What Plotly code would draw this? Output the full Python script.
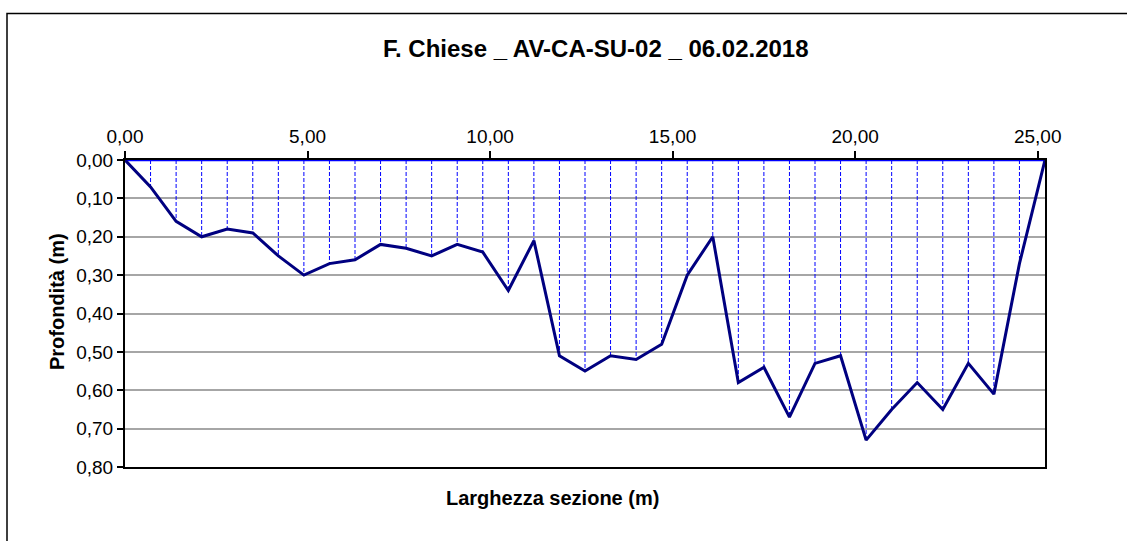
import plotly.graph_objects as go

# Data
larghezza = [0.0, 0.7, 1.4, 2.1, 2.8, 3.5, 4.2, 4.9, 5.6, 6.3, 7.0, 7.7, 8.4, 9.1,
             9.8, 10.5, 11.2, 11.9, 12.6, 13.3, 14.0, 14.7, 15.4, 16.1, 16.8, 17.5,
             18.2, 18.9, 19.6, 20.3, 21.0, 21.7, 22.4, 23.1, 23.8, 24.5, 25.2]
profondita = [0.00, 0.07, 0.16, 0.20, 0.18, 0.19, 0.25, 0.30, 0.27, 0.26, 0.22, 0.23,
              0.25, 0.22, 0.24, 0.34, 0.21, 0.51, 0.55, 0.51, 0.52, 0.48, 0.30, 0.20,
              0.58, 0.54, 0.67, 0.53, 0.51, 0.73, 0.65, 0.58, 0.65, 0.53, 0.61, 0.27,
              0.00]
title_text = "F. Chiese _ AV-CA-SU-02 _ 06.02.2018"
x_title = "Larghezza sezione (m)"
y_title = "Profondità (m)"
x_ticks = [0, 5, 10, 15, 20, 25]
y_ticks = [0.0, 0.1, 0.2, 0.3, 0.4, 0.5, 0.6, 0.7, 0.8]

FONT = "Liberation Sans, Arial, sans-serif"

# vertical dashed lines from the surface to each measured depth
vx, vy = [], []
for xv, dv in zip(larghezza, profondita):
    vx += [xv, xv, None]
    vy += [0, dv, None]

fig = go.Figure()
fig.add_trace(go.Scatter(x=vx, y=vy, mode="lines",
                         line=dict(color="#0000FF", width=1, dash="4px,2px"),
                         hoverinfo="skip", showlegend=False))
fig.add_trace(go.Scatter(x=[larghezza[0], larghezza[-1]], y=[0, 0], mode="lines",
                         line=dict(color="#0000FF", width=2.5),
                         hoverinfo="skip", showlegend=False))
fig.add_trace(go.Scatter(x=larghezza, y=profondita, mode="lines",
                         line=dict(color="#000080", width=3),
                         showlegend=False))

W, H = 1127, 541
L, R, T, B = 125, 82, 159.5, 73.5
pw, ph = W - L - R, H - T - B

def px(xp):
    return (xp - L) / pw

def py(yp):
    return (H - B - yp) / ph

fig.update_layout(
    width=W, height=H,
    margin=dict(l=L, r=R, t=T, b=B, pad=0),
    paper_bgcolor="white", plot_bgcolor="white",
    separators=", ",
    font=dict(family=FONT, size=19, color="black"),
    xaxis=dict(side="top", range=[0, 25.2], tickvals=x_ticks, tickformat=".2f",
               showgrid=False, zeroline=False, showline=True, linecolor="black",
               linewidth=2, mirror=True, ticks="outside", ticklen=7,
               tickcolor="black", tickwidth=1.5,
               tickfont=dict(size=19, family=FONT, color="black")),
    yaxis=dict(range=[0.8, 0], tickvals=y_ticks, tickformat=".2f",
               showgrid=True, gridcolor="#a6a6a6", gridwidth=1.5,
               zeroline=False, showline=True, linecolor="black", linewidth=2,
               mirror=True, ticks="outside", ticklen=6, tickcolor="black",
               tickwidth=1.5,
               tickfont=dict(size=19, family=FONT, color="black")),
    annotations=[
        dict(text="<b>" + title_text + "</b>", xref="paper", yref="paper",
             x=px(595.5), y=py(48), xanchor="center", yanchor="middle",
             showarrow=False, font=dict(size=24, family=FONT, color="black")),
        dict(text="<b>" + x_title + "</b>", xref="paper", yref="paper",
             x=px(552.5), y=py(499), xanchor="center", yanchor="middle",
             showarrow=False, font=dict(size=20, family=FONT, color="black")),
        dict(text="<b>" + y_title + "</b>", xref="paper", yref="paper",
             x=px(57), y=py(302), xanchor="center", yanchor="middle",
             textangle=-90, showarrow=False,
             font=dict(size=20, family=FONT, color="black")),
    ],
    shapes=[
        dict(type="rect", xref="paper", yref="paper",
             x0=px(7), x1=px(1160), y0=py(580), y1=py(12.5),
             line=dict(color="black", width=1.5), fillcolor="rgba(0,0,0,0)",
             layer="above"),
    ],
)

fig.write_html(
    "out.html",
    config={"displayModeBar": False},
    post_script="document.body.style.margin='0';document.body.style.overflow='hidden';",
)
